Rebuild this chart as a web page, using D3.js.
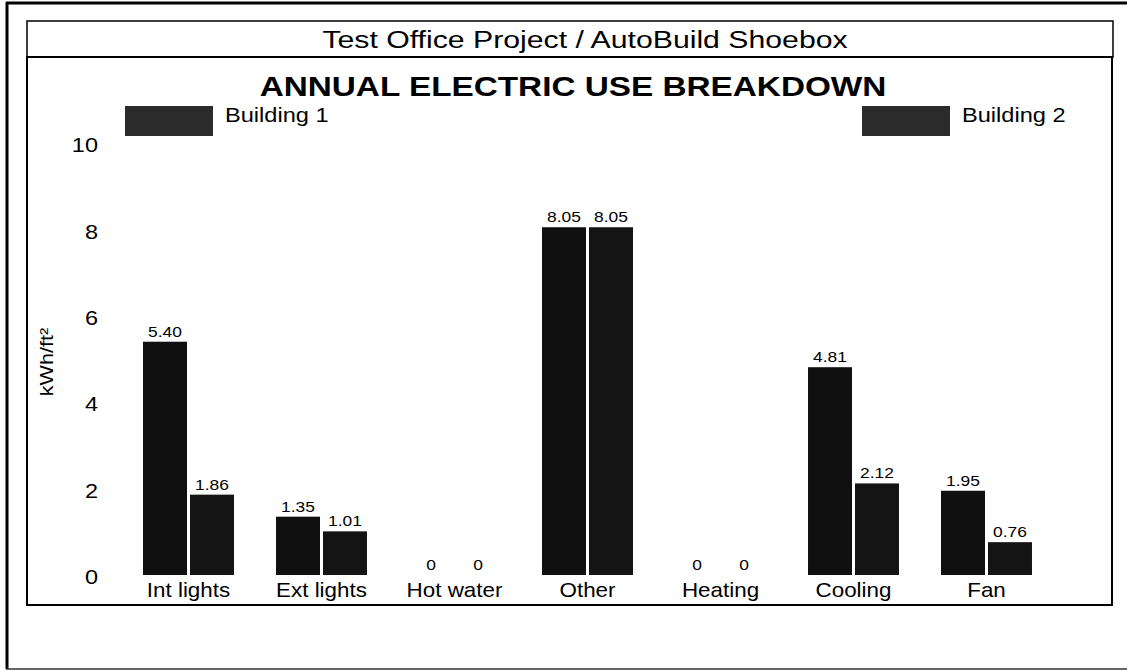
<!DOCTYPE html>
<html>
<head>
<meta charset="utf-8">
<script src="https://cdn.jsdelivr.net/npm/d3@7"></script>
<style>
  body { margin: 0; background: #fff; }
  svg { font-family: "Liberation Sans", Arial, Helvetica, sans-serif; }
</style>
</head>
<body>
<svg id="chart"></svg>
<script>
// Chart data
var categories = ["Int lights", "Ext lights", "Hot water", "Other", "Heating", "Cooling", "Fan"];
var building1 = [5.40, 1.35, 0, 8.05, 0, 4.81, 1.95];
var building2 = [1.86, 1.01, 0, 8.05, 0, 2.12, 0.76];
var seriesNames = ["Building 1", "Building 2"];
var yTicks = [0, 2, 4, 6, 8, 10];

var width = 1127;
var height = 671;

var svg = d3.select("#chart")
  .attr("width", width)
  .attr("height", height);

// Text in the scanned original is wider than the font, so stretch it a bit
function addText(x, y, sx, str) {
  return svg.append("text")
    .attr("transform", "translate(" + x + "," + y + ") scale(" + sx + ",1)")
    .attr("fill", "#000")
    .text(str);
}

// Outer frame (page border)
svg.append("line")
  .attr("x1", 6).attr("y1", 3).attr("x2", width).attr("y2", 3)
  .attr("stroke", "#000").attr("stroke-width", 3);
svg.append("line")
  .attr("x1", 7).attr("y1", 2).attr("x2", 7).attr("y2", 669)
  .attr("stroke", "#000").attr("stroke-width", 3);
svg.append("line")
  .attr("x1", 6).attr("y1", 669).attr("x2", width).attr("y2", 669)
  .attr("stroke", "#333").attr("stroke-width", 1.5);

// Title box
svg.append("rect")
  .attr("x", 27).attr("y", 21)
  .attr("width", 1113 - 27).attr("height", 36)
  .attr("fill", "none")
  .attr("stroke", "#000").attr("stroke-width", 1.5);

addText(585, 48, 1.26, "Test Office Project / AutoBuild Shoebox")
  .attr("text-anchor", "middle")
  .attr("font-size", 24);

// Chart panel
svg.append("rect")
  .attr("x", 27).attr("y", 57)
  .attr("width", 1112 - 27).attr("height", 605 - 57)
  .attr("fill", "none")
  .attr("stroke", "#000").attr("stroke-width", 2);

addText(573, 96, 1.19, "ANNUAL ELECTRIC USE BREAKDOWN")
  .attr("text-anchor", "middle")
  .attr("font-size", 28)
  .attr("font-weight", "bold");

// Scales
var x0 = d3.scaleBand()
  .domain(categories)
  .range([122, 122 + 7 * 133])
  .paddingInner(0.316)
  .paddingOuter(0.158);

var x1 = d3.scaleBand()
  .domain(seriesNames)
  .range([0, x0.bandwidth()])
  .paddingInner(0.064);

var y = d3.scaleLinear()
  .domain([0, 10])
  .range([575, 143]);

var colors = ["#101010", "#141414"];

// Legend
var legendX = [125, 862];
seriesNames.forEach(function(name, i) {
  svg.append("rect")
    .attr("x", legendX[i]).attr("y", 106)
    .attr("width", 88).attr("height", 30)
    .attr("fill", "#2b2b2b");
  addText(legendX[i] + 100, 122, 1.18, name)
    .attr("font-size", 20);
});

// Y axis tick labels (no axis line in the original)
var yAxis = d3.axisLeft(y)
  .tickValues(yTicks)
  .tickSize(0)
  .tickPadding(0)
  .tickFormat(d3.format("d"));

var yAxisG = svg.append("g")
  .attr("transform", "translate(98,2)")
  .call(yAxis);
yAxisG.select(".domain").remove();
yAxisG.selectAll("text")
  .attr("font-size", 21)
  .attr("font-family", "Liberation Sans, Arial, sans-serif")
  .attr("transform", "scale(1.12,1)")
  .attr("fill", "#000");

// Y axis title
svg.append("text")
  .attr("transform", "translate(53,362) rotate(-90) scale(1.2,1)")
  .attr("text-anchor", "middle")
  .attr("font-size", 18)
  .attr("fill", "#000")
  .text("kWh/ft²");

// Bars
var rows = categories.map(function(c, i) {
  return { category: c, values: [building1[i], building2[i]] };
});

var groups = svg.selectAll(".group")
  .data(rows)
  .enter().append("g")
  .attr("class", "group")
  .attr("transform", function(d) { return "translate(" + x0(d.category) + ",0)"; });

groups.selectAll("rect")
  .data(function(d) {
    return d.values.map(function(v, i) { return { name: seriesNames[i], value: v, idx: i }; });
  })
  .enter().append("rect")
  .attr("x", function(d) { return x1(d.name); })
  .attr("y", function(d) { return y(d.value); })
  .attr("width", x1.bandwidth())
  .attr("height", function(d) { return y(0) - y(d.value); })
  .attr("fill", function(d) { return colors[d.idx]; });

// Value labels
groups.selectAll(".value-label")
  .data(function(d) {
    return d.values.map(function(v, i) { return { name: seriesNames[i], value: v }; });
  })
  .enter().append("text")
  .attr("class", "value-label")
  .attr("transform", function(d) {
    return "translate(" + (x1(d.name) + x1.bandwidth() / 2) + "," + (y(d.value) - 5) + ") scale(1.16,1)";
  })
  .attr("text-anchor", "middle")
  .attr("font-size", 15)
  .attr("fill", "#000")
  .text(function(d) { return d.value === 0 ? "0" : d3.format(".2f")(d.value); });

// Category labels
svg.selectAll(".cat-label")
  .data(categories)
  .enter().append("text")
  .attr("class", "cat-label")
  .attr("transform", function(d) {
    return "translate(" + (x0(d) + x0.bandwidth() / 2) + ",597) scale(1.12,1)";
  })
  .attr("text-anchor", "middle")
  .attr("font-size", 20)
  .attr("fill", "#000")
  .text(function(d) { return d; });
</script>
</body>
</html>
